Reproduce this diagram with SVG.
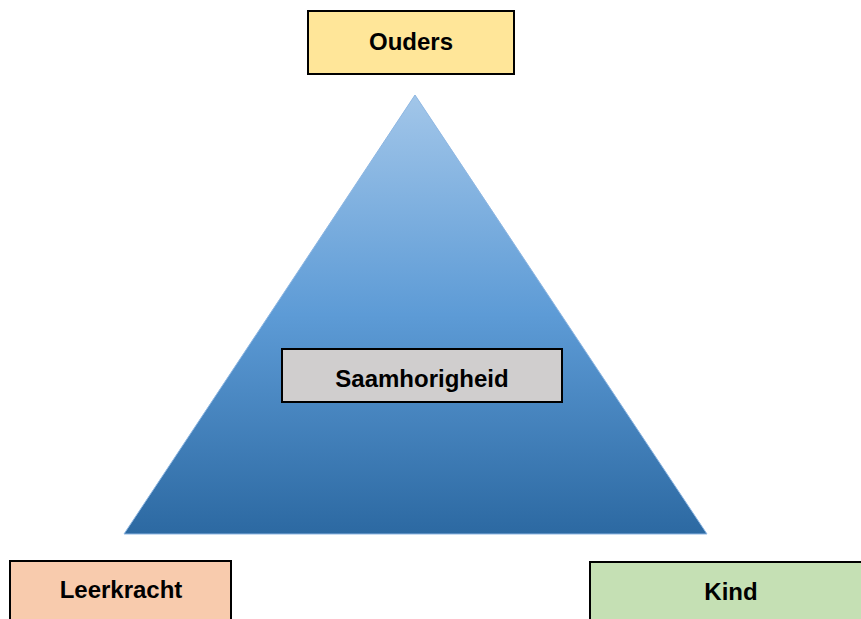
<svg xmlns="http://www.w3.org/2000/svg" width="861" height="619" viewBox="0 0 861 619">
<style>
.box{stroke:#000;stroke-width:2}
.lbl{font-family:"Liberation Sans","Open Sans",Arial,sans-serif;font-weight:bold;font-size:24px;fill:#000;text-anchor:middle}
</style>
<defs>
<linearGradient id="tri" x1="0" y1="0" x2="0" y2="1">
<stop offset="0" stop-color="#A2C6E9"/>
<stop offset="0.5" stop-color="#5D9BD6"/>
<stop offset="1" stop-color="#2C69A2"/>
</linearGradient>
</defs>
<rect width="861" height="619" fill="#fff"/>
<g id="triangle">
<polygon points="415,95 707,534 124,534" fill="url(#tri)" stroke="#8DB6E2" stroke-width="1"/>
</g>
<g id="ouders">
<rect class="box" x="308" y="11" width="206" height="63" fill="#FFE699"/>
<text class="lbl" x="411" y="50">Ouders</text>
</g>
<g id="saamhorigheid">
<rect class="box" x="282" y="349" width="280" height="53" fill="#D0CECE"/>
<text class="lbl" x="422" y="387">Saamhorigheid</text>
</g>
<g id="leerkracht">
<rect class="box" x="10" y="561" width="221" height="70" fill="#F8CBAD"/>
<text class="lbl" x="121" y="598">Leerkracht</text>
</g>
<g id="kind">
<rect class="box" x="590" y="562" width="285" height="70" fill="#C5E0B4"/>
<text class="lbl" x="731" y="600">Kind</text>
</g>
<g id="connectors"/>
</svg>
